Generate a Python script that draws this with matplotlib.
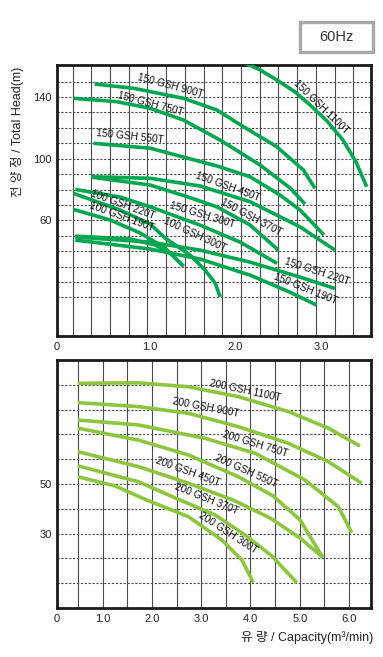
import matplotlib
matplotlib.use("Agg")
import matplotlib.pyplot as plt
import numpy as np
from matplotlib.patches import Rectangle

plt.rcParams['font.family'] = ['Liberation Sans', 'Noto Sans CJK KR', 'DejaVu Sans']

# ---------------- Top chart data (150 GSH / 100 GSH, 60Hz) ----------------
top_names = ["150 GSH 1100T", "150 GSH 900T", "150 GSH 750T", "150 GSH 550T",
             "150 GSH 450T", "150 GSH 370T", "150 GSH 300T", "100 GSH 300T",
             "100 GSH 220T", "100 GSH 190T", "150 GSH 220T", "150 GSH 190T"]

q_1100 = [2.033, 2.289, 2.483, 2.697, 2.871, 3.069, 3.255, 3.407, 3.532]
h_1100 = [164.1, 157.6, 151.1, 143.3, 134.9, 124.5, 112.1, 97.9, 81.8]
q_900 = [0.359, 0.813, 1.395, 1.785, 2.094, 2.483, 2.793, 2.929]
h_900 = [148.5, 145.7, 139.2, 131.6, 120.8, 107.8, 92.7, 80.8]
q_750 = [0.114, 0.620, 1.008, 1.395, 1.823, 2.289, 2.638, 2.813]
h_750 = [139.2, 137.0, 132.7, 125.1, 112.1, 95.9, 81.0, 70.6]
q_550 = [0.347, 1.008, 1.785, 2.172, 2.522, 2.755, 3.034]
h_550 = [110.0, 106.8, 95.3, 88.3, 76.4, 66.7, 50.5]
q_450 = [0.320, 1.008, 1.590, 2.172, 2.755, 3.162]
h_450 = [88.3, 87.3, 82.3, 72.1, 55.8, 40.7]
q_370 = [0.320, 1.008, 1.415, 1.785, 2.172, 2.502]
h_370 = [88.1, 82.9, 75.8, 68.8, 57.0, 40.7]
q_150_300 = [0.134, 0.658, 1.008, 1.590, 2.056, 2.487]
h_150_300 = [80.1, 75.1, 68.8, 56.9, 45.9, 32.1]
q_100_300 = [0.114, 0.658, 1.008, 1.182, 1.473, 1.648, 1.765, 1.823]
h_100_300 = [77.5, 66.7, 57.6, 48.5, 37.5, 27.7, 19.3, 10.4]
q_100_220 = [0.114, 0.542, 0.891, 1.182, 1.395]
h_100_220 = [67.1, 60.2, 51.8, 42.0, 30.3]
q_100_190 = [0.134, 0.775, 1.066, 1.241, 1.395]
h_100_190 = [49.8, 47.9, 44.0, 38.8, 30.3]
q_150_220 = [0.134, 1.008, 1.590, 2.172, 2.755, 3.162]
h_150_220 = [49.2, 45.9, 40.7, 32.9, 23.2, 15.8]
q_150_190 = [0.134, 1.008, 1.590, 2.172, 2.638, 2.949]
h_150_190 = [47.2, 41.4, 34.9, 24.5, 13.4, 5.0]

top_q = [q_1100, q_900, q_750, q_550, q_450, q_370, q_150_300, q_100_300,
         q_100_220, q_100_190, q_150_220, q_150_190]
top_h = [h_1100, h_900, h_750, h_550, h_450, h_370, h_150_300, h_100_300,
         h_100_220, h_100_190, h_150_220, h_150_190]

# label anchor (capacity, head) and rotation
top_lab_q = [3.005, 1.246, 1.013, 0.775, 1.916, 2.192, 1.619, 1.532, 0.693, 0.678, 2.949, 2.822]
top_lab_h = [133.6, 147.2, 135.5, 114.4, 82.0, 62.3, 63.4, 50.5, 70.0, 62.3, 26.6, 15.4]
top_lab_rot = [-44, -15, -15, -6, -20, -28, -17, -25, -20, -20, -18, -22]

top_yticks = [60, 100, 140]
top_xtick_labels = ["0", "1.0", "2.0", "3.0"]

# ---------------- Bottom chart data (200 GSH, 60Hz) ----------------
bot_names = ["200 GSH 1100T", "200 GSH 900T", "200 GSH 750T", "200 GSH 550T",
             "200 GSH 450T", "200 GSH 370T", "200 GSH 300T"]
b_q_1100 = [0.501, 1.729, 2.743, 3.756, 4.770, 5.581, 6.223]
b_h_1100 = [90.6, 90.8, 89.2, 85.2, 79.2, 72.5, 65.3]
b_q_900 = [0.501, 1.729, 2.743, 3.756, 4.770, 5.581, 6.258]
b_h_900 = [82.8, 81.2, 78.5, 73.1, 66.4, 59.0, 50.3]
b_q_750 = [0.501, 1.729, 3.081, 4.095, 5.108, 5.784, 6.055]
b_h_750 = [75.8, 73.8, 68.4, 62.4, 51.6, 40.8, 30.4]
b_q_550 = [0.501, 1.729, 2.743, 3.756, 4.460, 5.007, 5.467]
b_h_550 = [72.5, 67.7, 61.7, 52.9, 45.2, 35.5, 20.4]
b_q_450 = [0.501, 1.729, 2.743, 3.649, 4.399, 5.007, 5.467]
b_h_450 = [63.0, 57.0, 50.3, 43.5, 36.3, 28.2, 20.4]
b_q_370 = [0.501, 1.729, 2.575, 3.284, 3.892, 4.433, 4.940]
b_h_370 = [57.3, 50.9, 43.5, 37.5, 29.4, 21.0, 10.2]
b_q_300 = [0.501, 1.257, 1.899, 2.743, 3.420, 3.825, 4.060]
b_h_300 = [52.9, 49.2, 43.5, 36.8, 27.4, 19.4, 10.2]

bot_q = [b_q_1100, b_q_900, b_q_750, b_q_550, b_q_450, b_q_370, b_q_300]
bot_h = [b_h_1100, b_h_900, b_h_750, b_h_550, b_h_450, b_h_370, b_h_300]

bot_lab_q = [3.892, 3.102, 4.095, 3.912, 2.727, 3.102, 3.548]
bot_lab_h = [87.5, 80.8, 66.1, 55.2, 55.0, 44.0, 30.2]
bot_lab_rot = [-12, -11, -17, -24, -20, -22, -33]

bot_yticks = [50, 30]
bot_xtick_labels = ["0", "1.0", "2.0", "3.0", "4.0", "5.0", "6.0"]

# ---------------- Styling ----------------
W, H = 383, 657
fig = plt.figure(figsize=(W / 100, H / 100), dpi=100)
fig.patch.set_facecolor("white")

TOP_GREEN = "#00a650"
BOT_GREEN = "#8cc63e"
GRID_C = "#4a4a4a"


def px_axes(l, t, r, b):
    return [l / W, 1 - b / H, (r - l) / W, (b - t) / H]


def style_axes(ax):
    for s in ax.spines.values():
        s.set_linewidth(2.0)
        s.set_color("#1a1a1a")
    ax.tick_params(length=0, labelsize=8, colors="#222222", pad=4)


# Top axes
ax1 = fig.add_axes(px_axes(57, 65, 371, 336))
ax1.set_xlim(-0.079, 3.582)
ax1.set_ylim(-15, 160.8)
for x in 0.1025 + 0.2182 * np.arange(16):
    ax1.axvline(x, color=GRID_C, lw=0.8, zorder=1)
for y in np.arange(10, 151, 10):
    ax1.axhline(y, color=GRID_C, lw=0.8, ls=(0, (2, 1.5)), zorder=1)
for q, h in zip(top_q, top_h):
    ax1.plot(q, h, color=TOP_GREEN, lw=2.6, solid_capstyle="butt",
             solid_joinstyle="round", zorder=3)
for name, x, y, r in zip(top_names, top_lab_q, top_lab_h, top_lab_rot):
    ax1.text(x, y, name, rotation=r, rotation_mode="anchor", ha="center", va="center",
             fontsize=7.3, color="#111111", zorder=4)
ax1.set_yticks(top_yticks)
ax1.set_yticklabels([str(v) for v in top_yticks])
ax1.set_xticks([-0.079, 1, 2, 3])
ax1.set_xticklabels(top_xtick_labels)
style_axes(ax1)

# Bottom axes
ax2 = fig.add_axes(px_axes(57, 360, 371, 608))
ax2.set_xlim(0.075, 6.446)
ax2.set_ylim(0, 100)
for x in np.arange(0.5, 6.01, 0.5):
    ax2.axvline(x, color=GRID_C, lw=0.8, zorder=1)
for y in np.arange(10, 91, 10):
    ax2.axhline(y, color=GRID_C, lw=0.8, ls=(0, (2, 1.5)), zorder=1)
for q, h in zip(bot_q, bot_h):
    ax2.plot(q, h, color=BOT_GREEN, lw=2.6, solid_capstyle="butt",
             solid_joinstyle="round", zorder=3)
for name, x, y, r in zip(bot_names, bot_lab_q, bot_lab_h, bot_lab_rot):
    ax2.text(x, y, name, rotation=r, rotation_mode="anchor", ha="center", va="center",
             fontsize=7.3, color="#111111", zorder=4)
ax2.set_yticks(bot_yticks)
ax2.set_yticklabels([str(v) for v in bot_yticks])
ax2.set_xticks([0.075, 1, 2, 3, 4, 5, 6])
ax2.set_xticklabels(bot_xtick_labels)
style_axes(ax2)

# Axis titles
fig.text(18 / W, 1 - 132 / H, "전 양 정 / Total Head(m)", rotation=90,
         ha="center", va="center", fontsize=9, color="#222222")
fig.text(373 / W, 1 - 637 / H, "유 량 / Capacity(m³/min)", ha="right", va="center",
         fontsize=9, color="#222222")

# 60Hz box
fig.patches.append(Rectangle((300 / W, 1 - 52 / H), 73 / W, 30 / H, transform=fig.transFigure,
                             facecolor="white", edgecolor="#a8a8a8", lw=2.4))
fig.text(336 / W, 1 - 37 / H, "60Hz", ha="center", va="center", fontsize=10.5, color="#333333")

fig.savefig("out.png", dpi=100)
